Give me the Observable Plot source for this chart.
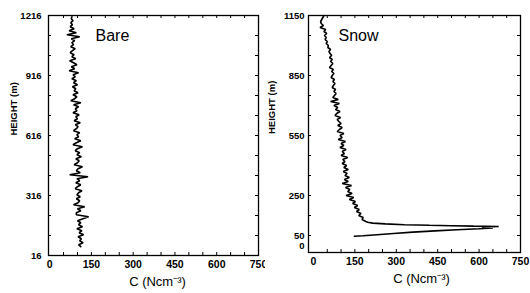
<!DOCTYPE html>
<html><head><meta charset="utf-8">
<script src="https://cdn.jsdelivr.net/npm/d3@7"></script>
<script src="https://cdn.jsdelivr.net/npm/@observablehq/plot@0.6"></script>
<style>
body{margin:0;background:#fff}
#c{display:flex;width:530px;height:293px;background:#fff}
</style>
</head><body><div id="c"></div>
<script>
// ---- Data ----
const bareHeight = [
1210,1200,1190,1180,1170,1160,1150,1140,1130,1120,
1110,1100,1090,1080,1070,1060,1050,1040,1030,1020,
1010,1000,990,980,970,960,950,940,930,920,
910,900,890,880,870,860,850,840,830,820,
810,800,790,780,770,760,750,740,730,720,
710,700,690,680,670,660,650,640,630,620,
610,600,590,580,570,560,550,540,530,520,
510,500,490,480,470,460,450,440,430,420,
410,400,390,380,370,360,350,340,330,320,
310,300,290,280,270,260,250,240,230,220,
210,200,190,180,170,160,150,140,130,120,
110,100,90,80,70,60];
const bareC = [
80,78,84,76,82,74,88,70,96,62,
108,78,90,80,86,76,92,82,74,88,
80,94,72,86,98,78,90,70,104,84,
92,80,96,86,100,82,94,88,102,84,
98,90,76,112,86,104,92,98,84,106,
94,100,88,110,92,102,96,86,108,98,
104,90,112,96,84,118,100,92,108,98,
114,94,106,100,88,118,102,96,110,72,
138,98,108,94,112,100,92,116,104,98,
110,96,108,102,86,126,100,112,96,96,
140,120,100,112,104,118,98,116,106,122,
102,114,108,120,104,112];

const snowHeight = [
1150,1140,1130,1120,1110,1100,1090,1080,1070,1060,
1050,1040,1030,1020,1010,1000,990,980,970,960,
950,940,930,920,910,900,890,880,870,860,
850,840,830,820,810,800,790,780,770,760,
750,740,730,720,710,700,690,680,670,660,
650,640,630,620,610,600,590,580,570,560,
550,540,530,520,510,500,490,480,470,460,
450,440,430,420,410,400,390,380,370,360,
350,340,330,320,310,300,290,280,270,260,
250,240,230,220,210,200,190,180,170,160,
150,140,130,120,116,112,108,104,101,99,
97,95,92,88,84,79,73,67,60,54,
49,46];
const snowC = [
38,34,30,26,28,36,24,44,38,48,
40,46,42,50,46,54,52,62,56,60,
66,58,68,62,70,64,58,72,66,74,
68,64,76,70,78,72,68,80,74,82,
76,70,90,62,94,74,88,80,96,84,
78,98,86,92,100,88,104,94,86,110,
96,104,90,116,100,110,96,118,104,112,
100,124,106,114,104,120,110,126,108,122,
114,130,112,126,104,138,116,132,124,140,
118,146,130,152,142,160,148,166,156,172,
164,180,176,190,196,215,260,330,420,500,
580,671,610,650,600,520,440,360,290,230,
180,148];

const xTickLabels = [0,150,300,450,600,750];
const xMinorTicks = [50,100,150,200,250,300,350,400,450,500,550,600,650,700];
const bareYTickLabels = [16,316,616,916,1216];
const bareYMinorTicks = [116,216,316,416,516,616,716,816,916,1016,1116];
const snowYTickLabels = [0,50,250,550,850,1150];
const snowYMinorTicks = [50,150,250,350,450,550,650,750,850,950,1050];

const yAxisTitle = "HEIGHT (m)";
const xAxisTitle = "C (Ncm\u207B\u00B3)";

// ---- Panels ----
function panel(o){
  const W = 265, H = 293, t = 3;
  const fw = W - o.ml - o.mr, fh = H - o.mt - o.mb;
  const data = o.h.map((h,i)=>({h, c:o.c[i]}));
  return Plot.plot({
    width: W, height: H,
    marginLeft: o.ml, marginRight: o.mr, marginTop: o.mt, marginBottom: o.mb,
    style: {fontFamily: "'Liberation Sans', Arial, sans-serif", background: "white", color: "black", overflow: "visible"},
    x: {domain: o.xDomain},
    y: {domain: o.yDomain},
    marks: [
      Plot.frame({stroke: "black", strokeWidth: 1.3}),
      Plot.tickY(o.yMinor, {y: d=>d, insetRight: fw - t, stroke: "black", strokeWidth: 1}),
      Plot.tickY(o.yMinor, {y: d=>d, insetLeft: fw - t, stroke: "black", strokeWidth: 1}),
      Plot.tickX(xMinorTicks, {x: d=>d, insetTop: fh - t, stroke: "black", strokeWidth: 1}),
      Plot.tickX(xMinorTicks, {x: d=>d, insetBottom: fh - t, stroke: "black", strokeWidth: 1}),
      Plot.axisX(xTickLabels, {tickSize: 0, tickPadding: 5, fontSize: 10.5, fontWeight: "bold", tickFormat: d=>String(d), label: null}),
      Plot.axisY(o.yLabels, {tickSize: 0, tickPadding: o.yPad, fontSize: 9.5, fontWeight: "bold", tickFormat: d=>String(d), label: null}),
      Plot.line(data, {x: "c", y: "h", stroke: "black", strokeWidth: 1.6, strokeLinejoin: "miter"}),
      Plot.text([o.title], {frameAnchor: "top-left", dx: o.titleDx, dy: 25, lineAnchor: "bottom", textAnchor: "start", fontSize: 16}),
      Plot.text([yAxisTitle], {frameAnchor: "left", rotate: -90, dx: o.yTitleDx, fontSize: 9.5, fontWeight: "bold"}),
      Plot.text([xAxisTitle], {frameAnchor: "bottom", dx: o.xTitleDx, dy: 30, fontSize: 13})
    ]
  });
}

const c = document.getElementById("c");
c.append(panel({
  h: bareHeight, c: bareC, xDomain: [-4, 750], yDomain: [16, 1216],
  yLabels: bareYTickLabels, yMinor: bareYMinorTicks, yPad: 7,
  ml: 48, mr: 7, mt: 15, mb: 38,
  title: "Bare", titleDx: 47, yTitleDx: -35, xTitleDx: 4
}));
c.append(panel({
  h: snowHeight, c: snowC, xDomain: [-18, 750], yDomain: [-35, 1150],
  yLabels: snowYTickLabels, yMinor: snowYMinorTicks, yPad: 4,
  ml: 43, mr: 10, mt: 15, mb: 41,
  title: "Snow", titleDx: 30, yTitleDx: -37, xTitleDx: 7
}));
</script>
</body></html>
